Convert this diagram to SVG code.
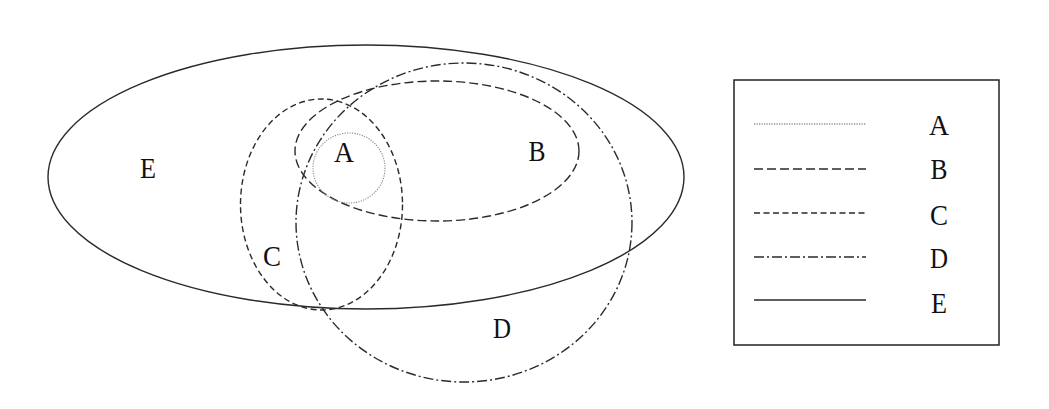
<svg xmlns="http://www.w3.org/2000/svg" width="1049" height="409" viewBox="0 0 1049 409">
<style>
.s{fill:none;stroke:#2a2a2a;stroke-width:1.4}
.a{stroke:#888;stroke-width:1.1;stroke-dasharray:1.2 1.3}
.b{stroke-dasharray:9 4}
.c{stroke-dasharray:6 3.5}
.d{stroke-dasharray:10 3 2 3}
text{font-family:"Liberation Serif",serif;font-size:30px;fill:#111;text-anchor:middle}
</style>
<rect width="1049" height="409" fill="#fff"/>
<g id="connectors"></g>
<g id="E"><ellipse class="s" cx="366" cy="177" rx="318" ry="132"/><text x="148" y="178" textLength="16" lengthAdjust="spacingAndGlyphs">E</text></g>
<g id="B"><ellipse class="s b" cx="437" cy="151" rx="142" ry="70"/><text x="537" y="161" textLength="17" lengthAdjust="spacingAndGlyphs">B</text></g>
<g id="A"><ellipse class="s a" cx="349" cy="168" rx="36" ry="35"/><text x="344" y="162" textLength="20" lengthAdjust="spacingAndGlyphs">A</text></g>
<g id="C"><ellipse class="s c" cx="321.5" cy="204.5" rx="81" ry="105.5"/><text x="272" y="266" textLength="18" lengthAdjust="spacingAndGlyphs">C</text></g>
<g id="D"><ellipse class="s d" cx="464" cy="222.5" rx="168" ry="159.5"/><text x="502" y="338" textLength="18" lengthAdjust="spacingAndGlyphs">D</text></g>
<g id="legend">
<rect x="734" y="80" width="265" height="265" fill="none" stroke="#222" stroke-width="1.5"/>
<line class="s a" x1="754" y1="124" x2="866" y2="124" style="stroke:#555"/>
<line class="s b" x1="754" y1="169" x2="866" y2="169"/>
<line class="s c" x1="754" y1="213" x2="866" y2="213"/>
<line class="s d" x1="754" y1="257" x2="866" y2="257"/>
<line class="s" x1="754" y1="300" x2="866" y2="300"/>
<text x="939" y="135" textLength="20" lengthAdjust="spacingAndGlyphs">A</text>
<text x="939" y="179" textLength="17" lengthAdjust="spacingAndGlyphs">B</text>
<text x="939" y="225" textLength="18" lengthAdjust="spacingAndGlyphs">C</text>
<text x="939" y="268" textLength="18" lengthAdjust="spacingAndGlyphs">D</text>
<text x="939" y="313" textLength="16" lengthAdjust="spacingAndGlyphs">E</text>
</g>
</svg>
